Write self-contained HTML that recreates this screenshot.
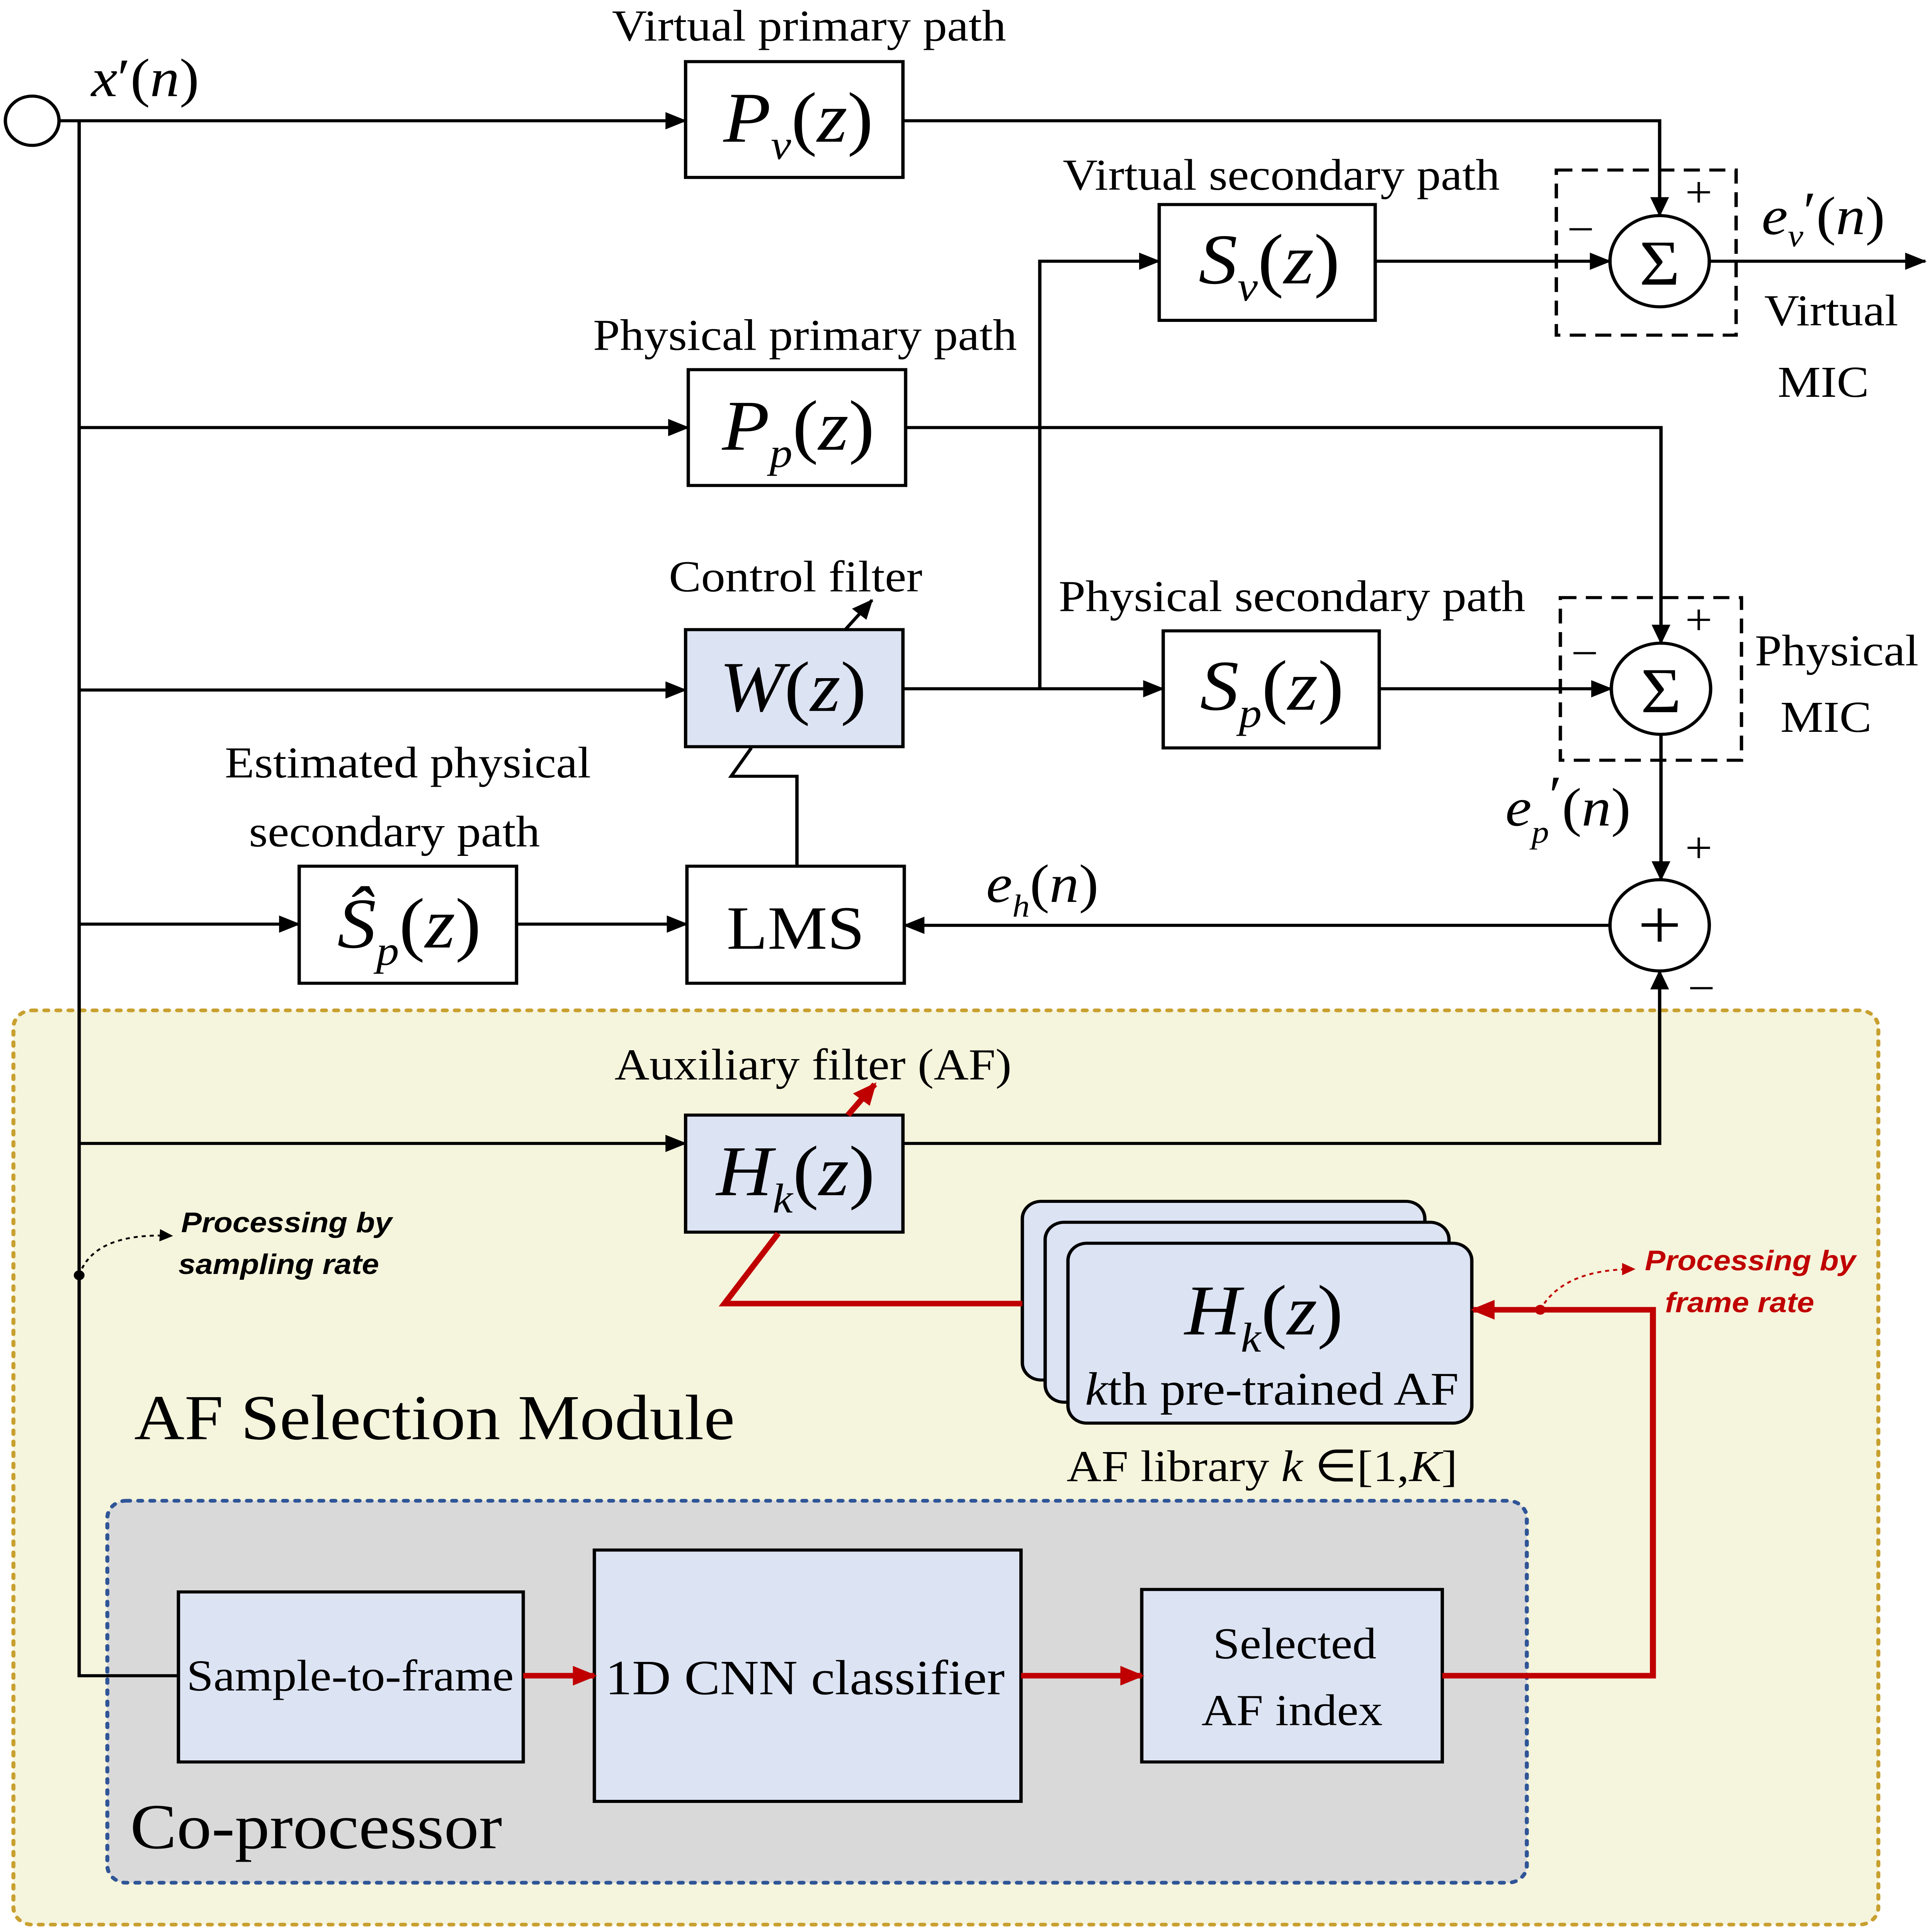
<!DOCTYPE html>
<html><head><meta charset="utf-8"><style>
html,body{margin:0;padding:0;background:#fff;width:100%;height:100%;overflow:hidden}
svg{display:block;width:100vw;height:100vh;position:absolute;left:0;top:0}
text{font-family:"Liberation Serif",serif;fill:#000}
.m{font-style:italic}
.s{font-family:"Liberation Sans",sans-serif;font-weight:bold;font-style:italic}
</style></head><body>
<svg viewBox="0 0 1440 1568" preserveAspectRatio="none" xmlns="http://www.w3.org/2000/svg">
<defs>
<marker id="a" markerWidth="10" markerHeight="10" refX="9" refY="5" orient="auto" markerUnits="userSpaceOnUse" viewBox="0 0 10 10"><path d="M0,0 L10,5 L0,10 z" fill="#000"/></marker>
<marker id="a2" markerWidth="16" markerHeight="14" refX="15" refY="7" orient="auto" markerUnits="userSpaceOnUse" viewBox="0 0 16 14"><path d="M0,0 L16,7 L0,14 z" fill="#000"/></marker>
<marker id="r" markerWidth="18" markerHeight="16" refX="16" refY="8" orient="auto" markerUnits="userSpaceOnUse" viewBox="0 0 18 16"><path d="M0,0 L18,8 L0,16 z" fill="#c00000"/></marker>
<marker id="rs" markerWidth="10" markerHeight="10" refX="9" refY="5" orient="auto" markerUnits="userSpaceOnUse" viewBox="0 0 10 10"><path d="M0,0 L10,5 L0,10 z" fill="#c00000"/></marker>
</defs>
<rect x="10" y="820" width="1390" height="742" rx="14" fill="#f5f4dc" stroke="#c8a030" stroke-width="3" stroke-dasharray="3,6" stroke-linecap="round"/>
<rect x="80" y="1218" width="1058" height="310" rx="14" fill="#d9d9d9" stroke="#2f5597" stroke-width="3" stroke-dasharray="3,6" stroke-linecap="round"/>

<g stroke="#000" stroke-width="2.5" fill="none">
<circle cx="24" cy="98" r="20" fill="#fff"/>
<polyline points="44,98 59,98 59,1360 133,1360"/>
<line x1="59" y1="98" x2="511" y2="98" marker-end="url(#a2)"/>
<polyline points="673,98 1237,98 1237,175" marker-end="url(#a2)"/>
<line x1="59" y1="347" x2="513" y2="347" marker-end="url(#a2)"/>
<polyline points="675,347 1238,347 1238,522" marker-end="url(#a2)"/>
<line x1="59" y1="560" x2="511" y2="560" marker-end="url(#a2)"/>
<line x1="673" y1="559" x2="867" y2="559" marker-end="url(#a2)"/>
<polyline points="775,559 775,212 864,212" marker-end="url(#a2)"/>
<line x1="1025" y1="212" x2="1200" y2="212" marker-end="url(#a2)"/>
<line x1="1274" y1="212" x2="1435" y2="212" marker-end="url(#a2)"/>
<line x1="1028" y1="559" x2="1201" y2="559" marker-end="url(#a2)"/>
<line x1="1238" y1="596" x2="1238" y2="714" marker-end="url(#a2)"/>
<line x1="1200" y1="751" x2="674" y2="751" marker-end="url(#a2)"/>
<line x1="59" y1="750" x2="223" y2="750" marker-end="url(#a2)"/>
<line x1="385" y1="750" x2="512" y2="750" marker-end="url(#a2)"/>
<polyline points="594,703 594,630 545,630 560,607"/>
<line x1="630" y1="511" x2="650" y2="487" marker-end="url(#a2)"/>
<line x1="59" y1="928" x2="511" y2="928" marker-end="url(#a2)"/>
<polyline points="673,928 1237,928 1237,788" marker-end="url(#a2)"/>
<rect x="1160" y="138" width="134" height="134" stroke-dasharray="12,7"/>
<rect x="1163" y="485" width="135" height="132" stroke-dasharray="12,7"/>
</g>
<g stroke="#000" stroke-width="2.5" fill="#fff">
<circle cx="1237" cy="212" r="37"/>
<circle cx="1238" cy="559" r="37"/>
<circle cx="1237" cy="751" r="37"/>
<rect x="511" y="50" width="162" height="94"/>
<rect x="864" y="166" width="161" height="94"/>
<rect x="513" y="300" width="162" height="94"/>
<rect x="511" y="511" width="162" height="95" fill="#dce3f3"/>
<rect x="867" y="512" width="161" height="95"/>
<rect x="223" y="703" width="162" height="95"/>
<rect x="512" y="703" width="162" height="95"/>
<rect x="511" y="905" width="162" height="95" fill="#dce3f3"/>
<rect x="762" y="975" width="300" height="145" rx="14" fill="#dce3f3"/>
<rect x="779" y="992" width="301" height="146" rx="14" fill="#dce3f3"/>
<rect x="796" y="1009" width="301" height="146" rx="14" fill="#dce3f3"/>
<rect x="133" y="1292" width="257" height="138" fill="#dce3f3"/>
<rect x="443" y="1258" width="318" height="204" fill="#dce3f3"/>
<rect x="851" y="1290" width="224" height="140" fill="#dce3f3"/>
</g>
<g stroke="#c00000" stroke-width="4.5" fill="none">
<polyline points="762,1058 540,1058 580,1001"/>
<line x1="632" y1="905" x2="652" y2="880" marker-end="url(#r)"/>
<line x1="390" y1="1360" x2="443" y2="1360" marker-end="url(#r)"/>
<line x1="761" y1="1360" x2="851" y2="1360" marker-end="url(#r)"/>
<polyline points="1075,1360 1232,1360 1232,1063 1098,1063" marker-end="url(#r)"/>
</g>
<path d="M1148,1063 Q1165,1030 1218,1030" stroke="#c00000" stroke-width="1.5" stroke-dasharray="3,3" fill="none" marker-end="url(#rs)"/>
<circle cx="1148" cy="1063" r="4" fill="#c00000"/>
<path d="M59,1035 Q70,1000 128,1003" stroke="#000" stroke-width="1.5" stroke-dasharray="3,3" fill="none" marker-end="url(#a)"/>
<circle cx="59" cy="1035" r="4" fill="#000"/>

<g font-size="36">
<text x="603" y="33" text-anchor="middle">Virtual primary path</text>
<text x="955" y="154" text-anchor="middle">Virtual secondary path</text>
<text x="600" y="284" text-anchor="middle">Physical primary path</text>
<text x="593" y="480" text-anchor="middle">Control filter</text>
<text x="963" y="496" text-anchor="middle">Physical secondary path</text>
<text x="304" y="631" text-anchor="middle">Estimated physical</text>
<text x="294" y="687" text-anchor="middle">secondary path</text>
<text x="606" y="876" text-anchor="middle">Auxiliary filter (AF)</text>
<text x="1315" y="264">Virtual</text>
<text x="1325" y="322">MIC</text>
<text x="1308" y="540">Physical</text>
<text x="1327" y="594">MIC</text>
<text x="795" y="1202">AF library <tspan class="m">k</tspan> ∈[1,<tspan class="m">K</tspan>]</text>
<text x="261" y="1372" text-anchor="middle">Sample-to-frame</text>
<text x="600" y="1375" text-anchor="middle" font-size="40">1D CNN classifier</text>
<text x="965" y="1346" text-anchor="middle">Selected</text>
<text x="963" y="1400" text-anchor="middle">AF index</text>
<text x="948" y="1140" text-anchor="middle" font-size="38"><tspan class="m">k</tspan>th pre-trained AF</text>
</g>
<text x="100" y="1168" font-size="52">AF Selection Module</text>
<text x="97" y="1500" font-size="52">Co-processor</text>
<text x="593" y="770" font-size="50" text-anchor="middle">LMS</text>
<g font-size="23">
<text class="s" x="135" y="1000">Processing by</text>
<text class="s" x="133" y="1034">sampling rate</text>
<text class="s" x="1226" y="1031" style="fill:#c00000">Processing by</text>
<text class="s" x="1241" y="1065" style="fill:#c00000">frame rate</text>
</g>
<g font-size="58">
<text x="595" y="115" text-anchor="middle"><tspan class="m">P</tspan><tspan class="m" font-size="34" dy="14">v</tspan><tspan dy="-14">(</tspan><tspan class="m">z</tspan>)</text>
<text x="946" y="230" text-anchor="middle"><tspan class="m">S</tspan><tspan class="m" font-size="34" dy="14">v</tspan><tspan dy="-14">(</tspan><tspan class="m">z</tspan>)</text>
<text x="595" y="365" text-anchor="middle"><tspan class="m">P</tspan><tspan class="m" font-size="34" dy="14">p</tspan><tspan dy="-14">(</tspan><tspan class="m">z</tspan>)</text>
<text x="591" y="577" text-anchor="middle"><tspan class="m">W</tspan>(<tspan class="m">z</tspan>)</text>
<text x="948" y="576" text-anchor="middle"><tspan class="m">S</tspan><tspan class="m" font-size="34" dy="14">p</tspan><tspan dy="-14">(</tspan><tspan class="m">z</tspan>)</text>
<text x="305" y="769" text-anchor="middle"><tspan class="m">Ŝ</tspan><tspan class="m" font-size="34" dy="14">p</tspan><tspan dy="-14">(</tspan><tspan class="m">z</tspan>)</text>
<text x="593" y="970" text-anchor="middle"><tspan class="m">H</tspan><tspan class="m" font-size="34" dy="14">k</tspan><tspan dy="-14">(</tspan><tspan class="m">z</tspan>)</text>
<text x="942" y="1083" text-anchor="middle"><tspan class="m">H</tspan><tspan class="m" font-size="34" dy="14">k</tspan><tspan dy="-14">(</tspan><tspan class="m">z</tspan>)</text>
<text x="1237" y="231" text-anchor="middle" font-size="52">Σ</text>
<text x="1238" y="578" text-anchor="middle" font-size="52">Σ</text>
<text x="1237" y="770" text-anchor="middle" font-size="58">+</text>
</g>
<g font-size="44">
<text x="68" y="78"><tspan class="m">x</tspan>′(<tspan class="m">n</tspan>)</text>
<text x="1313" y="190"><tspan class="m">e</tspan><tspan class="m" font-size="26" dy="10">v</tspan><tspan dy="-14">′</tspan><tspan dy="4">(</tspan><tspan class="m">n</tspan>)</text>
<text x="1122" y="670"><tspan class="m">e</tspan><tspan class="m" font-size="26" dy="14">p</tspan><tspan dy="-24">′</tspan><tspan dy="10">(</tspan><tspan class="m">n</tspan>)</text>
<text x="735" y="732"><tspan class="m">e</tspan><tspan class="m" font-size="26" dy="12">h</tspan><tspan dy="-12">(</tspan><tspan class="m">n</tspan>)</text>
</g>
<g font-size="36">
<text x="1256" y="168">+</text><text x="1168" y="198">−</text>
<text x="1256" y="515">+</text><text x="1171" y="542">−</text>
<text x="1256" y="700">+</text><text x="1258" y="814">−</text>
</g>
</svg>
</body></html>
